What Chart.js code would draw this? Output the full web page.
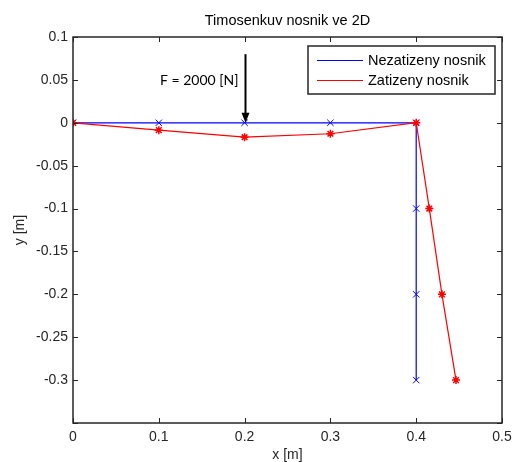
<!DOCTYPE html>
<html>
<head>
<meta charset="utf-8">
<script src="https://cdn.jsdelivr.net/npm/chart.js@4"></script>
<style>
  html, body { margin: 0; padding: 0; background: #fff; }
  #wrap { width: 513px; height: 462px; }
</style>
</head>
<body>
<div id="wrap"><canvas id="c" width="513" height="462"></canvas></div>
<script>
// Undeformed beam nodes (x, y) in metres
const unloadedX = [0, 0.1, 0.2, 0.3, 0.4, 0.4, 0.4, 0.4];
const unloadedY = [0, 0, 0, 0, 0, -0.1, -0.2, -0.3];
// Deformed beam nodes under load
const loadedX = [0, 0.1, 0.2, 0.3, 0.4, 0.4153, 0.430, 0.4464];
const loadedY = [0, -0.0086, -0.0168, -0.0128, 0, -0.1, -0.2, -0.3];

const seriesNames = ['Nezatizeny nosnik', 'Zatizeny nosnik'];
const xTicks = [0, 0.1, 0.2, 0.3, 0.4, 0.5];
const yTicks = [0.1, 0.05, 0, -0.05, -0.1, -0.15, -0.2, -0.25, -0.3, -0.35];
const yTickLabels = ['0.1', '0.05', '0', '-0.05', '-0.1', '-0.15', '-0.2', '-0.25', '-0.3', ''];
const xTickLabels = ['0', '0.1', '0.2', '0.3', '0.4', '0.5'];

// Applied force annotation
const forceX = 0.2;
const forceFrom = 0.08;
const forceTo = 0;
const forceText = 'F = 2000 [N]';
const forceTextY = 0.049;

const toPoints = (xs, ys) => xs.map((x, i) => ({ x, y: ys[i] }));

const AXIS_COLOR = '#262626';
const FONT = '"Liberation Sans", Arial, sans-serif';

// Box frame with inward ticks on all four sides
const framePlugin = {
  id: 'frame',
  afterDatasetsDraw(chart) {
    const { ctx, chartArea: a, scales: { x, y } } = chart;
    const len = 5;
    ctx.save();
    ctx.strokeStyle = AXIS_COLOR;
    ctx.lineWidth = 1;
    ctx.beginPath();
    xTicks.forEach(v => {
      const px = Math.round(x.getPixelForValue(v)) + 0.5;
      ctx.moveTo(px, a.bottom); ctx.lineTo(px, a.bottom - len);
      ctx.moveTo(px, a.top); ctx.lineTo(px, a.top + len);
    });
    yTicks.forEach(v => {
      const py = Math.round(y.getPixelForValue(v)) + 0.5;
      ctx.moveTo(a.left, py); ctx.lineTo(a.left + len, py);
      ctx.moveTo(a.right, py); ctx.lineTo(a.right - len, py);
    });
    ctx.stroke();
    ctx.lineWidth = 1.5;
    ctx.strokeRect(Math.round(a.left), Math.round(a.top), Math.round(a.right - a.left), Math.round(a.bottom - a.top));
    ctx.restore();
  }
};

// Force arrow with its label
const forcePlugin = {
  id: 'force',
  afterDatasetsDraw(chart) {
    const { ctx, scales: { x, y } } = chart;
    const px = Math.round(x.getPixelForValue(forceX)) + 0.5;
    const y0 = y.getPixelForValue(forceFrom);
    const y1 = y.getPixelForValue(forceTo);
    const head = 10, half = 4;
    ctx.save();
    ctx.strokeStyle = '#000';
    ctx.fillStyle = '#000';
    ctx.lineWidth = 2;
    ctx.beginPath();
    ctx.moveTo(px, y0);
    ctx.lineTo(px, y1 - head + 1);
    ctx.stroke();
    ctx.beginPath();
    ctx.moveTo(px, y1);
    ctx.lineTo(px - half, y1 - head);
    ctx.lineTo(px + half, y1 - head);
    ctx.closePath();
    ctx.fill();
    ctx.font = '14px Lato, "Open Sans", sans-serif';
    ctx.textAlign = 'right';
    ctx.textBaseline = 'middle';
    ctx.fillText(forceText, px - 7, y.getPixelForValue(forceTextY));
    ctx.restore();
  }
};

// Boxed legend in the upper-right corner of the plot
const boxLegendPlugin = {
  id: 'boxLegend',
  afterDraw(chart) {
    const { ctx, chartArea: a } = chart;
    const right = a.right - 7, top = a.top + 9;
    const w = 187, h = 48;
    const left = right - w;
    ctx.save();
    ctx.fillStyle = '#fff';
    ctx.fillRect(left, top, w, h);
    ctx.strokeStyle = AXIS_COLOR;
    ctx.lineWidth = 1.5;
    ctx.strokeRect(left, top, w, h);
    ctx.font = '14.5px ' + FONT;
    ctx.textBaseline = 'middle';
    ctx.textAlign = 'left';
    chart.data.datasets.forEach((ds, i) => {
      const cy = Math.round(top + 13.5 + i * 20) + 0.5;
      ctx.strokeStyle = ds.borderColor;
      ctx.lineWidth = 1.2;
      ctx.beginPath();
      ctx.moveTo(left + 9, cy);
      ctx.lineTo(left + 55, cy);
      ctx.stroke();
      ctx.fillStyle = '#000';
      ctx.fillText(ds.label, left + 60, cy);
    });
    ctx.restore();
  }
};

new Chart(document.getElementById('c'), {
  type: 'scatter',
  data: {
    datasets: [
      {
        label: seriesNames[0],
        data: toPoints(unloadedX, unloadedY),
        showLine: true,
        borderColor: '#0000ff',
        backgroundColor: '#0000ff',
        borderWidth: 1.2,
        pointStyle: 'crossRot',
        pointRadius: 4.5,
        pointBorderWidth: 1,
        order: 1
      },
      {
        label: seriesNames[1],
        data: toPoints(loadedX, loadedY),
        showLine: true,
        borderColor: '#ff0000',
        backgroundColor: '#ff0000',
        borderWidth: 1.2,
        pointStyle: 'star',
        pointRadius: 4,
        pointBorderWidth: 1.5,
        order: 0
      }
    ]
  },
  options: {
    responsive: false,
    animation: false,
    events: [],
    layout: { padding: { left: 0, right: 11, top: 0, bottom: 0 } },
    plugins: {
      legend: { display: false },
      tooltip: { enabled: false },
      title: {
        display: true,
        fullSize: false,
        text: 'Timosenkuv nosnik ve 2D',
        color: '#000',
        font: { family: FONT, size: 14.5, weight: 'normal', lineHeight: 1.2 },
        padding: { top: 12, bottom: 7.6 }
      }
    },
    scales: {
      x: {
        type: 'linear',
        min: 0, max: 0.5,
        afterBuildTicks: s => { s.ticks = xTicks.map(v => ({ value: v })); },
        afterFit: s => { s.height = 39; s.paddingLeft = 0; s.paddingRight = 0; },
        grid: { display: false, drawTicks: false },
        border: { display: false },
        ticks: {
          color: AXIS_COLOR,
          padding: 6,
          font: { family: FONT, size: 14 },
          callback: (v) => xTickLabels[xTicks.findIndex(t => Math.abs(t - v) < 1e-9)] ?? ''
        },
        title: {
          display: true, text: 'x [m]', color: AXIS_COLOR,
          font: { family: FONT, size: 14 }, padding: { top: 0, bottom: -2 }
        }
      },
      y: {
        type: 'linear',
        min: -0.35, max: 0.1,
        afterBuildTicks: s => { s.ticks = yTicks.map(v => ({ value: v })); },
        afterFit: s => { s.width = 73; s.paddingTop = 0; s.paddingBottom = 0; },
        grid: { display: false, drawTicks: false },
        border: { display: false },
        ticks: {
          color: AXIS_COLOR,
          padding: 5,
          font: { family: FONT, size: 14 },
          callback: (v) => yTickLabels[yTicks.findIndex(t => Math.abs(t - v) < 1e-9)] ?? ''
        },
        title: {
          display: true, text: 'y [m]', color: AXIS_COLOR,
          font: { family: FONT, size: 14 }, padding: { top: 12, bottom: 0 }
        }
      }
    }
  },
  plugins: [framePlugin, forcePlugin, boxLegendPlugin]
});
</script>
</body>
</html>
